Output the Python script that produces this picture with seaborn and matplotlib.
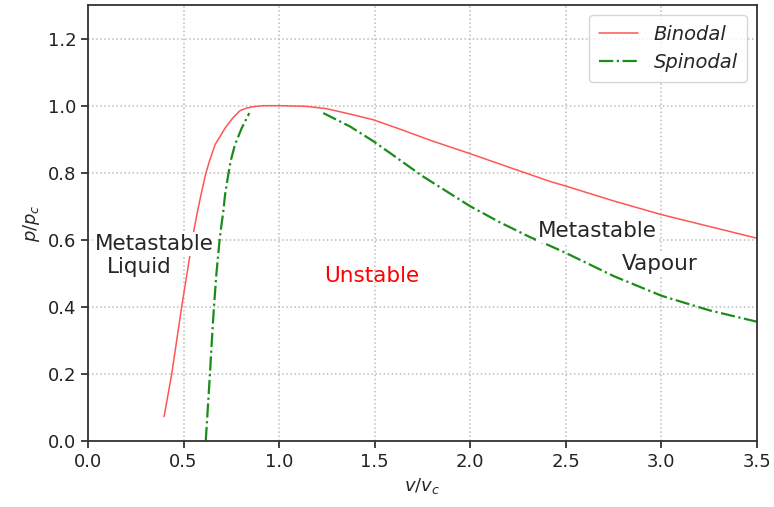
import matplotlib
matplotlib.use("Agg")
import matplotlib.pyplot as plt
import seaborn as sns
import pandas as pd

# Binodal (coexistence) curve in reduced variables
binodal_v = [0.398, 0.438, 0.49, 0.542, 0.556, 0.573, 0.591, 0.615, 0.635, 0.665,
             0.717, 0.757, 0.795, 0.830, 0.865, 0.916, 1.005, 1.144, 1.249, 1.371,
             1.493, 1.633, 1.80, 1.999, 2.20, 2.418, 2.496, 2.75, 3.002, 3.25, 3.499]
binodal_p = [0.073, 0.20, 0.40, 0.585, 0.635, 0.685, 0.734, 0.795, 0.834, 0.884,
             0.933, 0.963, 0.985, 0.993, 0.997, 1.0, 1.0, 0.998, 0.991, 0.975,
             0.958, 0.930, 0.895, 0.857, 0.817, 0.774, 0.761, 0.716, 0.675, 0.640, 0.605]

# Spinodal curve, liquid-side and vapour-side branches
spin_liq_v = [0.616, 0.627, 0.638, 0.648, 0.659, 0.672, 0.686, 0.696, 0.708, 0.717,
              0.730, 0.746, 0.769, 0.804, 0.844]
spin_liq_p = [0.0, 0.10, 0.20, 0.30, 0.40, 0.50, 0.585, 0.635, 0.685, 0.734,
              0.781, 0.834, 0.884, 0.933, 0.978]
spin_vap_v = [1.231, 1.371, 1.493, 1.58, 1.75, 2.0, 2.156, 2.313, 2.418, 2.496,
              2.75, 3.002, 3.25, 3.499]
spin_vap_p = [0.978, 0.938, 0.894, 0.859, 0.790, 0.70, 0.652, 0.608, 0.582, 0.562,
              0.492, 0.433, 0.390, 0.356]

x_ticks = [0.0, 0.5, 1.0, 1.5, 2.0, 2.5, 3.0, 3.5]
y_ticks = [0.0, 0.2, 0.4, 0.6, 0.8, 1.0, 1.2]

sns.set_style("ticks")
plt.rcParams["font.family"] = ["DejaVu Sans"]

fig = plt.figure(figsize=(7.74, 5.07), dpi=100)
ax = fig.add_axes([0.1137, 0.130, 0.8643, 0.860])

bin_df = pd.DataFrame({"v": binodal_v, "p": binodal_p})
liq_df = pd.DataFrame({"v": spin_liq_v, "p": spin_liq_p})
vap_df = pd.DataFrame({"v": spin_vap_v, "p": spin_vap_p})

sns.lineplot(data=bin_df, x="v", y="p", ax=ax, sort=False, color="#ff5555",
             linewidth=1.1, label="Binodal")
sns.lineplot(data=liq_df, x="v", y="p", ax=ax, sort=False, color="#1a8c1a",
             linewidth=1.6, linestyle="-.", label="Spinodal")
sns.lineplot(data=vap_df, x="v", y="p", ax=ax, sort=False, color="#1a8c1a",
             linewidth=1.6, linestyle="-.", label="_nolegend_")

ax.set_xlim(0, 3.5)
ax.set_ylim(0, 1.3)
ax.set_xticks(x_ticks)
ax.set_yticks(y_ticks)
ax.tick_params(labelsize=13, length=5, width=1.2, colors="#222222")
for s in ax.spines.values():
    s.set_linewidth(1.3)
    s.set_color("#333333")
ax.grid(True, linestyle=":", color="#bbbbbb", linewidth=1.1)

ax.set_xlabel(r"$v/v_c$", fontsize=13)
ax.set_ylabel(r"$p/p_c$", fontsize=13)

leg = ax.legend(loc="upper right", fontsize=14, frameon=True, fancybox=True,
                borderpad=0.5, handlelength=2.0)
for t in leg.get_texts():
    t.set_fontstyle("italic")
leg.get_frame().set_edgecolor("#cccccc")

box = dict(facecolor="white", edgecolor="none", pad=1.5)
ax.text(0.348, 0.570, "Metastable", fontsize=15.5, ha="center", va="baseline",
        bbox=box, clip_on=False, zorder=5)
ax.text(0.267, 0.501, "Liquid", fontsize=15.5, ha="center", va="baseline",
        bbox=box, clip_on=False, zorder=5)
ax.text(2.666, 0.609, "Metastable", fontsize=15.5, ha="center", va="baseline",
        bbox=box, zorder=5)
ax.text(2.993, 0.510, "Vapour", fontsize=15.5, ha="center", va="baseline",
        bbox=box, zorder=5)
ax.text(1.484, 0.4755, "Unstable", fontsize=15.5, ha="center", va="baseline",
        color="red", zorder=5)

fig.savefig("out.png", dpi=100)
